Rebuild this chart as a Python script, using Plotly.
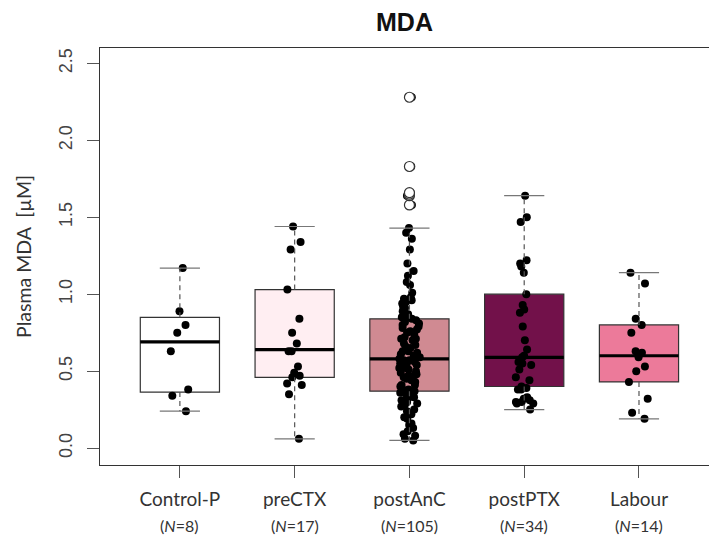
import plotly.graph_objects as go

# ---- data ----
categories = ["Control-P", "preCTX", "postAnC", "postPTX", "Labour"]
n_counts = [8, 17, 105, 34, 14]
box_colors = ["#FFFFFF", "#FFEEF2", "#D08A92", "#72114A", "#EC7A9A"]

q1 = [0.364, 0.46, 0.37, 0.40, 0.43]
medians = [0.69, 0.64, 0.58, 0.59, 0.60]
q3 = [0.85, 1.03, 0.84, 1.00, 0.80]
whisker_low = [0.24, 0.06, 0.05, 0.25, 0.19]
whisker_high = [1.17, 1.44, 1.43, 1.64, 1.14]

control_p = [1.17, 0.89, 0.80, 0.75, 0.63, 0.38, 0.34, 0.24]
pre_ctx = [1.44, 1.34, 1.29, 1.03, 0.84, 0.75, 0.68, 0.63, 0.63, 0.53, 0.49,
           0.47, 0.46, 0.42, 0.41, 0.35, 0.06]
post_anc = [0.05, 0.06, 0.08, 0.09, 0.11, 0.13, 0.15, 0.16, 0.19, 0.20, 0.22,
            0.24, 0.25, 0.27, 0.28, 0.29, 0.30, 0.31, 0.31, 0.33, 0.33, 0.34,
            0.35, 0.36, 0.36, 0.37, 0.37,
            0.38, 0.38, 0.40, 0.41, 0.41, 0.43, 0.44, 0.45, 0.46, 0.47, 0.47,
            0.48, 0.49, 0.50, 0.51, 0.52, 0.52, 0.53, 0.54, 0.55, 0.55, 0.56,
            0.57, 0.57, 0.58, 0.58,
            0.59, 0.60, 0.61, 0.62, 0.63, 0.63, 0.65, 0.66, 0.67, 0.68, 0.70,
            0.71, 0.71, 0.72, 0.74, 0.75, 0.76, 0.77, 0.78, 0.79, 0.80, 0.81,
            0.82, 0.83, 0.84,
            0.85, 0.85, 0.87, 0.89, 0.91, 0.92, 0.94, 0.95, 0.96, 0.97, 0.98,
            1.01, 1.06, 1.08, 1.12, 1.15, 1.20, 1.29, 1.36, 1.40, 1.43,
            1.58, 1.64, 1.65, 1.66, 1.83, 2.28]
post_ptx = [1.64, 1.50, 1.47, 1.22, 1.20, 1.18, 1.14, 1.00, 0.93, 0.90, 0.88,
            0.79, 0.70, 0.64, 0.60, 0.59, 0.56, 0.55, 0.54, 0.51, 0.46, 0.44,
            0.40, 0.39, 0.38, 0.38, 0.33, 0.32, 0.31, 0.30, 0.30, 0.29, 0.29,
            0.25]
labour = [1.14, 1.07, 0.84, 0.80, 0.75, 0.63, 0.62, 0.59, 0.53, 0.50, 0.43,
          0.32, 0.23, 0.19]
groups = [control_p, pre_ctx, post_anc, post_ptx, labour]

y_ticks = [0.0, 0.5, 1.0, 1.5, 2.0, 2.5]

# ---- figure ----
BOX_W = 0.69
CAP_HALF = 0.175
positions = list(range(1, len(categories) + 1))

fig = go.Figure()

# boxes (no whiskers here; whiskers drawn dashed below)
for pos, c, a, m, b in zip(positions, box_colors, q1, medians, q3):
    fig.add_trace(go.Box(
        x=[pos], q1=[a], median=[m], q3=[b], lowerfence=[a], upperfence=[b],
        width=BOX_W, fillcolor=c, line=dict(color="#333333", width=1.2),
        boxpoints=False, showlegend=False, hoverinfo="skip"))

# jittered points (library jitter), invisible box
for pos, vals in zip(positions, groups):
    fig.add_trace(go.Box(
        x=[pos] * len(vals), y=vals, width=BOX_W,
        boxpoints="all", jitter=0.3, pointpos=0,
        fillcolor="rgba(0,0,0,0)", line=dict(color="rgba(0,0,0,0)", width=0),
        marker=dict(color="black", size=8, line=dict(width=0)),
        showlegend=False, hoverinfo="y"))

# whiskers (dashed)
wx, wy = [], []
for pos, a, b, lo, hi in zip(positions, q1, q3, whisker_low, whisker_high):
    wx += [pos, pos, None, pos, pos, None]
    wy += [a, lo, None, b, hi, None]
fig.add_trace(go.Scatter(x=wx, y=wy, mode="lines",
                         line=dict(color="#555555", width=1.2, dash="5px,4px"),
                         showlegend=False, hoverinfo="skip"))

# whisker caps
cx, cy = [], []
for pos, lo, hi in zip(positions, whisker_low, whisker_high):
    cx += [pos - CAP_HALF, pos + CAP_HALF, None, pos - CAP_HALF, pos + CAP_HALF, None]
    cy += [lo, lo, None, hi, hi, None]
fig.add_trace(go.Scatter(x=cx, y=cy, mode="lines",
                         line=dict(color="#777777", width=1.2),
                         showlegend=False, hoverinfo="skip"))

# thick medians
mx, my = [], []
for pos, m in zip(positions, medians):
    mx += [pos - BOX_W / 2, pos + BOX_W / 2, None]
    my += [m, m, None]
fig.add_trace(go.Scatter(x=mx, y=my, mode="lines",
                         line=dict(color="black", width=3.2),
                         showlegend=False, hoverinfo="skip"))

# outliers (open circles at the box centre)
ox, oy = [], []
for pos, vals, hi in zip(positions, groups, whisker_high):
    for v in vals:
        if v > hi + 1e-9:
            ox.append(pos)
            oy.append(v)
fig.add_trace(go.Scatter(x=ox, y=oy, mode="markers",
                         marker=dict(symbol="circle", size=10, color="white",
                                     line=dict(color="#333333", width=1.2)),
                         showlegend=False, hoverinfo="y"))

# N labels under categories
for pos, n in zip(positions, n_counts):
    fig.add_annotation(x=pos, y=-0.146, xref="x", yref="paper",
                       text=f"(<i>N</i>={n})", showarrow=False,
                       yanchor="middle",
                       font=dict(family="Lato, Open Sans, sans-serif", size=16,
                                 color="#333333"))

fig.update_layout(
    width=709, height=538,
    margin=dict(l=100, r=0, t=48, b=73, autoexpand=False),
    paper_bgcolor="white", plot_bgcolor="white",
    boxmode="overlay",
    title=dict(text="<b>MDA</b>", x=0.5, xref="paper", y=1 - 22.5 / 538,
               yref="container", xanchor="center", yanchor="middle",
               font=dict(family="Liberation Sans, Arial, sans-serif", size=25,
                         color="#111111")),
    xaxis=dict(range=[0.304, 5.61], tickvals=positions, ticktext=categories,
               ticks="outside", ticklen=12, tickcolor="#555555", tickwidth=1.2,
               showline=True, linecolor="#333333", linewidth=1.3, mirror=True,
               showgrid=False, zeroline=False, ticklabelstandoff=5,
               automargin=False,
               tickfont=dict(family="Lato, Open Sans, sans-serif", size=19,
                             color="#333333")),
    yaxis=dict(range=[-0.11, 2.6], tickvals=y_ticks, tickformat=".1f",
               tickangle=-90, ticks="outside", ticklen=12, tickcolor="#555555",
               tickwidth=1.2, showline=True, linecolor="#333333", linewidth=1.3,
               showgrid=False, zeroline=False, automargin=False,
               ticklabelstandoff=8,
               tickfont=dict(family="Liberation Sans, Arial, sans-serif",
                             size=18, color="#444444"),
               title=dict(text="Plasma MDA  [µM]", standoff=18,
                          font=dict(family="Lato, Open Sans, sans-serif",
                                    size=19.5, color="#333333"))),
)

fig.write_html("out.html", config={"displayModeBar": False},
               post_script="document.body.style.margin='0';"
                           "document.body.style.overflow='hidden';")
